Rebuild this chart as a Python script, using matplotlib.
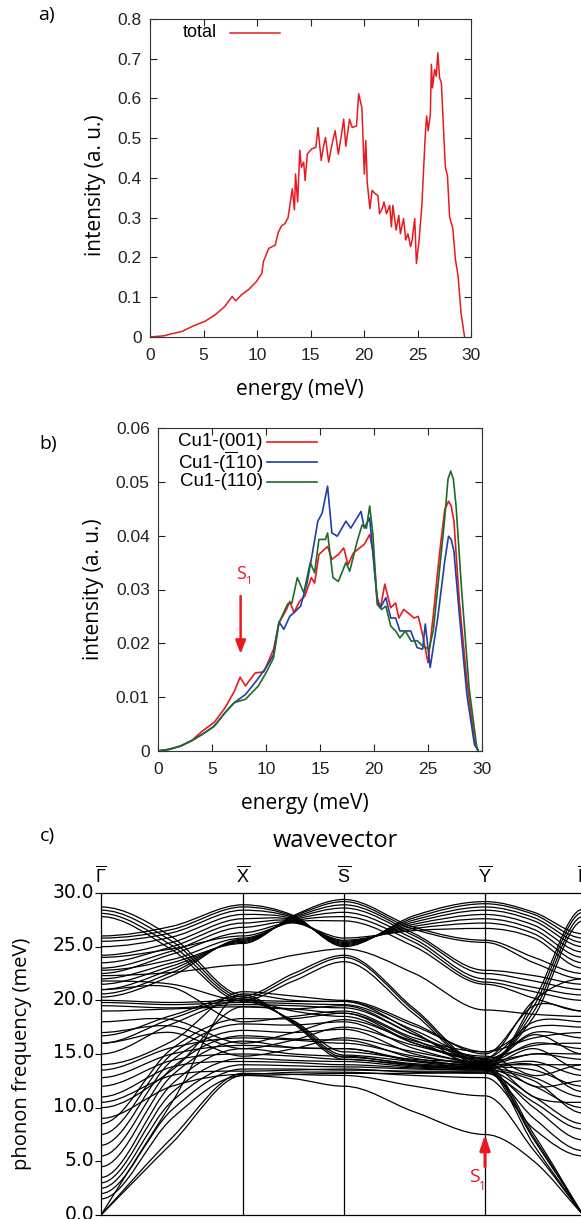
import numpy as np
import matplotlib
matplotlib.use('Agg')
import matplotlib.pyplot as plt
from matplotlib.path import Path
from matplotlib.patches import PathPatch
import matplotlib.ticker as ticker
import matplotlib.transforms as mtransforms

plt.rcParams['mathtext.fontset'] = 'custom'
plt.rcParams['mathtext.rm'] = 'Liberation Sans'
plt.rcParams['axes.linewidth'] = 0.8

W, H = 581, 1219
RED = '#e8191f'
BLUE = '#1f40a8'
GREEN = '#1e6b26'
LABFONT = 'Open Sans'
TICKFONT = 'Liberation Sans'

# ---------------- panel a: total DOS ----------------
e_tot = [0, 1.3, 2.0, 3.0, 4.05, 5.1, 6.1, 7.0, 7.68, 8.0, 8.55, 9.24, 9.93, 10.45, 10.6,
         11.1, 11.7, 12.0, 12.3, 12.6, 12.9, 13.3, 13.5, 13.6, 13.8, 14.0, 14.15, 14.36,
         14.5, 14.7, 15.1, 15.5, 15.7, 16.0, 16.2, 16.4, 16.7, 16.95, 17.3, 17.6, 17.9,
         18.1, 18.3, 18.65, 18.9, 19.3, 19.5, 19.8, 20.03, 20.17, 20.3, 20.55, 20.76, 21.07,
         21.3, 21.45, 21.7, 21.87, 22.1, 22.4, 22.56, 22.7, 23.0, 23.25, 23.4, 23.7, 23.9,
         24.1, 24.36, 24.5, 24.74, 24.9, 25.15, 25.4, 25.7, 25.85, 26.0, 26.2, 26.3, 26.4,
         26.6, 26.75, 26.9, 27.06, 27.23, 27.6, 27.8, 28.0, 28.3, 28.55, 28.8, 29.07, 29.4]
i_tot = [0, 0.003, 0.008, 0.014, 0.028, 0.039, 0.056, 0.077, 0.102, 0.091, 0.106, 0.12,
         0.139, 0.16, 0.19, 0.223, 0.231, 0.264, 0.28, 0.285, 0.30, 0.373, 0.32, 0.41, 0.34,
         0.47, 0.427, 0.44, 0.394, 0.46, 0.473, 0.477, 0.527, 0.444, 0.477, 0.502, 0.44,
         0.477, 0.519, 0.46, 0.51, 0.548, 0.48, 0.548, 0.527, 0.531, 0.612, 0.577, 0.41,
         0.494, 0.39, 0.323, 0.369, 0.36, 0.356, 0.31, 0.323, 0.34, 0.31, 0.331, 0.277,
         0.331, 0.269, 0.306, 0.26, 0.298, 0.244, 0.26, 0.227, 0.244, 0.298, 0.185, 0.244,
         0.327, 0.494, 0.556, 0.519, 0.56, 0.686, 0.627, 0.673, 0.656, 0.715, 0.652, 0.64,
         0.427, 0.406, 0.302, 0.273, 0.194, 0.152, 0.06, 0.0]

# ---------------- panel b: projected DOS ----------------
e_001 = [0, 1.0, 2.07, 3.1, 4.1, 5.2, 6.2, 7.07, 7.6, 8.1, 9.0, 9.8, 10.7, 11.2, 11.9,
         12.2, 12.6, 13.1, 13.6, 14.2, 14.5, 14.9, 15.7, 16.1, 16.7, 17.2, 17.6, 18.1, 19.1,
         19.6, 19.9, 20.3, 20.6, 21.0, 21.55, 22.0, 22.3, 22.75, 23.3, 23.7, 24.1, 24.5,
         25.0, 25.5, 25.85, 26.2, 26.55, 26.9, 27.15, 27.4, 27.9, 28.6, 29.3, 29.65]
i_001 = [0, 0.0003, 0.0009, 0.0019, 0.0037, 0.0053, 0.008, 0.0111, 0.0137, 0.0121, 0.0145,
         0.0147, 0.0189, 0.0238, 0.0263, 0.0278, 0.0257, 0.0278, 0.0288, 0.0322, 0.0312,
         0.0365, 0.038, 0.0356, 0.0365, 0.0377, 0.0346, 0.0368, 0.0384, 0.0402, 0.0371,
         0.0285, 0.0266, 0.031, 0.0266, 0.0275, 0.0247, 0.0263, 0.0254, 0.0247, 0.025,
         0.0216, 0.0164, 0.0254, 0.0325, 0.039, 0.0448, 0.0464, 0.0455, 0.0427, 0.0278,
         0.013, 0.0019, 0.0]

e_m110 = [0, 1.0, 2.07, 3.1, 4.1, 5.2, 6.2, 7.07, 8.1, 9.1, 10.0, 10.7, 11.2, 11.65, 12.2,
          12.75, 13.2, 13.8, 14.3, 14.8, 15.2, 15.7, 16.1, 16.6, 17.4, 17.85, 18.8, 19.1,
          19.6, 20.3, 20.6, 21.1, 21.55, 22.0, 22.4, 22.9, 23.4, 24.0, 24.5, 24.75, 25.2,
          25.9, 26.55, 26.9, 27.15, 27.4, 27.9, 28.6, 29.3, 29.65]
i_m110 = [0, 0.0003, 0.0009, 0.0019, 0.0031, 0.0046, 0.0071, 0.009, 0.0105, 0.013, 0.0155,
          0.0179, 0.024, 0.0226, 0.025, 0.026, 0.0269, 0.0312, 0.0368, 0.0427, 0.0442,
          0.0492, 0.0405, 0.0399, 0.0427, 0.0414, 0.0445, 0.0414, 0.0433, 0.0278, 0.0266,
          0.0285, 0.0247, 0.0247, 0.0223, 0.0223, 0.0223, 0.0192, 0.0189, 0.0236, 0.0155,
          0.0247, 0.0353, 0.0399, 0.0393, 0.0371, 0.0254, 0.0105, 0.0012, 0.0]

e_110 = [0, 1.0, 2.07, 3.1, 4.1, 5.2, 6.2, 7.07, 8.1, 9.3, 10.0, 10.7, 11.2, 12.0, 12.4,
         12.9, 13.5, 14.1, 14.5, 14.9, 15.5, 15.7, 16.2, 16.7, 17.4, 17.75, 18.45, 18.9,
         19.3, 19.6, 19.9, 20.3, 20.7, 21.1, 21.55, 22.0, 22.4, 22.9, 23.45, 24.0, 24.5,
         25.1, 25.5, 25.9, 26.55, 26.85, 27.1, 27.35, 27.6, 28.1, 28.8, 29.5, 29.65]
i_110 = [0, 0.0003, 0.0009, 0.0019, 0.0031, 0.0046, 0.0071, 0.009, 0.0096, 0.0121, 0.0145,
         0.0173, 0.0238, 0.0273, 0.0275, 0.0322, 0.0294, 0.035, 0.0331, 0.0393, 0.0393,
         0.0405, 0.0322, 0.0315, 0.035, 0.0334, 0.039, 0.042, 0.0414, 0.0455, 0.0402,
         0.0272, 0.0263, 0.0269, 0.0232, 0.0223, 0.021, 0.0223, 0.0204, 0.0205, 0.0195,
         0.0189, 0.0225, 0.0303, 0.0433, 0.0505, 0.052, 0.0505, 0.0455, 0.0303, 0.0118,
         0.0009, 0.0]

# ---------------- panel c: phonon bands ----------------
# high-symmetry path and values at G, mid, X, mid, S, mid, Y, mid, G
k_path = [0, 71, 142, 192.5, 243, 313.5, 384, 433, 482]
k_labels = [r'$\overline{\Gamma}$', r'$\overline{\mathrm{X}}$', r'$\overline{\mathrm{S}}$',
            r'$\overline{\mathrm{Y}}$', r'$\overline{\Gamma}$']
bands = [
    [26.0, 26.9, 28.9, 27.9, 25.0, 27.9, 29.2, 28.2, 26.2],
    [25.8, 26.6, 28.7, 27.8, 25.1, 27.7, 29.0, 28.0, 25.8],
    [25.5, 26.3, 28.4, 27.7, 25.2, 27.5, 28.7, 27.7, 25.4],
    [25.0, 25.9, 28.0, 27.6, 25.3, 27.3, 28.4, 27.4, 25.0],
    [24.2, 25.4, 27.6, 27.5, 25.4, 27.1, 28.0, 27.0, 24.5],
    [23.5, 25.0, 27.2, 27.4, 25.5, 26.9, 27.6, 26.6, 24.0],
    [23.0, 24.6, 26.8, 27.3, 25.6, 26.7, 27.2, 26.2, 23.5],
    [22.5, 24.3, 26.3, 27.2, 25.8, 26.5, 26.7, 25.8, 23.0],
    [22.0, 23.5, 25.3, 27.9, 29.4, 26.8, 25.6, 24.0, 22.5],
    [21.5, 23.2, 25.4, 27.8, 29.2, 26.6, 25.4, 23.5, 22.0],
    [21.0, 22.9, 25.5, 27.7, 28.9, 26.2, 22.8, 22.3, 21.5],
    [20.6, 22.6, 25.6, 27.6, 28.6, 26.0, 22.5, 21.8, 21.0],
    [20.3, 22.3, 25.7, 27.5, 28.2, 25.7, 22.0, 21.2, 20.5],
    [22.8, 23.8, 25.8, 27.4, 27.8, 25.4, 21.7, 20.8, 20.0],
    [24.0, 24.8, 26.0, 27.3, 27.4, 25.0, 21.5, 20.2, 19.0],
    [22.3, 22.6, 23.3, 24.2, 24.8, 22.5, 19.1, 18.7, 18.5],
    [28.7, 25.9, 20.5, 17.8, 14.5, 13.9, 13.6, 20.0, 28.5],
    [28.4, 25.5, 20.3, 17.9, 14.7, 14.1, 13.8, 19.5, 28.2],
    [28.1, 25.1, 20.1, 18.0, 14.9, 14.3, 14.0, 19.0, 27.8],
    [27.8, 24.7, 19.9, 18.1, 15.2, 14.5, 14.3, 18.5, 27.4],
    [16.7, 18.6, 20.4, 22.5, 24.2, 19.2, 14.0, 7.5, 0.0],
    [16.0, 18.3, 20.2, 22.2, 24.0, 19.0, 13.8, 7.2, 0.0],
    [15.0, 17.8, 20.0, 21.8, 23.6, 18.7, 13.7, 7.0, 0.0],
    [20.0, 19.8, 20.0, 19.9, 19.9, 17.6, 15.2, 16.5, 17.0],
    [19.8, 19.6, 19.8, 19.7, 19.6, 17.2, 14.6, 15.8, 16.0],
    [19.5, 19.3, 19.6, 19.5, 19.3, 16.8, 14.3, 15.0, 15.0],
    [19.0, 19.2, 19.4, 19.2, 18.8, 16.3, 14.0, 14.0, 14.0],
    [0.0, 6.7, 13.0, 12.7, 12.0, 9.6, 7.5, 5.0, 0.0],
    [0.0, 7.2, 13.2, 13.1, 13.0, 12.0, 11.1, 6.0, 0.0],
    [0.0, 10.5, 20.6, 20.0, 19.9, 17.0, 13.6, 6.5, 0.0],
    [1.5, 9.0, 13.0, 13.1, 13.2, 13.2, 13.3, 9.0, 6.0],
    [2.0, 9.8, 13.6, 13.6, 13.5, 13.4, 13.4, 10.0, 7.0],
    [2.5, 10.6, 14.0, 13.9, 13.8, 13.6, 13.5, 11.0, 8.5],
    [3.0, 11.4, 14.6, 14.4, 14.3, 13.8, 13.6, 12.0, 10.0],
    [3.5, 12.2, 15.5, 15.0, 14.8, 14.0, 13.7, 12.8, 11.0],
    [4.5, 13.0, 16.2, 15.6, 15.5, 14.3, 13.8, 13.5, 12.0],
    [5.5, 13.7, 16.7, 16.4, 16.3, 14.6, 13.9, 14.3, 13.0],
    [6.5, 14.4, 17.2, 17.0, 17.3, 15.0, 14.0, 15.0, 14.5],
    [7.5, 15.0, 17.8, 17.7, 18.0, 15.5, 14.2, 16.0, 15.5],
    [8.5, 15.5, 18.3, 18.3, 18.8, 16.0, 14.4, 17.0, 16.5],
    [9.0, 12.0, 13.1, 13.3, 13.3, 13.0, 12.8, 8.0, 5.5],
    [10.0, 13.5, 19.4, 19.2, 19.5, 16.8, 14.6, 18.0, 18.0],
    [10.5, 13.0, 13.4, 13.5, 13.6, 13.3, 13.2, 10.5, 8.0],
    [11.0, 13.8, 14.3, 14.2, 14.0, 13.7, 13.5, 12.5, 9.5],
    [12.0, 14.4, 15.0, 14.8, 14.5, 14.0, 13.7, 14.0, 11.5],
    [12.8, 15.0, 15.8, 15.6, 15.5, 14.4, 13.9, 15.5, 13.5],
    [13.5, 15.6, 16.5, 16.3, 16.0, 14.8, 14.1, 16.8, 15.0],
    [14.0, 16.2, 20.8, 20.4, 20.0, 17.8, 15.0, 19.5, 19.0],
    [16.0, 17.0, 14.8, 15.5, 16.5, 15.2, 14.2, 11.0, 10.5],
    [17.0, 17.6, 15.5, 16.3, 17.5, 15.8, 14.5, 12.0, 12.5],
    [18.0, 18.2, 16.0, 17.0, 18.2, 16.2, 14.8, 13.0, 14.0],
    [21.0, 21.2, 18.0, 18.5, 19.0, 16.5, 15.2, 17.5, 17.5],
    [21.8, 21.5, 20.0, 19.0, 18.5, 16.0, 14.6, 20.0, 22.0],
]


def fx(px):
    return px / W


def fy(py):
    return 1 - py / H


def draw_band(ax, k, e, **kw):
    """smooth curve through band values, flat at zone points"""
    n = len(k)
    t = np.zeros(n)
    for i in range(1, n - 1, 2):
        t[i] = (e[i + 1] - e[i - 1]) / (k[i + 1] - k[i - 1])
    if e[0] == 0:
        t[0] = (e[1] - e[0]) / (k[1] - k[0])
    if e[-1] == 0:
        t[-1] = (e[-1] - e[-2]) / (k[-1] - k[-2])
    verts = [(k[0], e[0])]
    codes = [Path.MOVETO]
    for i in range(n - 1):
        h = k[i + 1] - k[i]
        verts += [(k[i] + h / 3, e[i] + t[i] * h / 3),
                  (k[i + 1] - h / 3, e[i + 1] - t[i + 1] * h / 3),
                  (k[i + 1], e[i + 1])]
        codes += [Path.CURVE4] * 3
    ax.add_patch(PathPatch(Path(verts, codes), fill=False, **kw))


def style_dos(ax, fmt):
    ax.tick_params(direction='in', top=True, right=True, length=5, width=0.8,
                   labelsize=12.5, colors='#222222')
    ax.tick_params(axis='x', pad=8)
    ax.tick_params(axis='y', pad=6)
    ax.yaxis.set_major_formatter(ticker.FuncFormatter(lambda v, p: '0' if v == 0 else fmt % v))
    for lab in ax.get_xticklabels() + ax.get_yticklabels():
        lab.set_family(TICKFONT)
    for s in ax.spines.values():
        s.set_color('#333333')


fig = plt.figure(figsize=(W / 100, H / 100), dpi=100)

# panel a
axa = fig.add_axes([fx(150), fy(337), fx(321), 318 / H])
axa.plot(e_tot, i_tot, color=RED, lw=1.1)
axa.set_xlim(0, 30)
axa.set_ylim(0, 0.8)
axa.set_xticks(np.arange(0, 31, 5))
axa.set_yticks(np.arange(0, 0.81, 0.1))
style_dos(axa, '%.1f')
axa.text(0.209, 0.956, 'total', transform=axa.transAxes, ha='right', va='center',
         fontsize=13, family=TICKFONT)
axa.plot([0.25, 0.405], [0.956, 0.956], transform=axa.transAxes, color=RED, lw=1.1)
fig.text(fx(38), fy(15), 'a)', fontsize=14, family=LABFONT, va='center', ha='left')
fig.text(fx(300), fy(389), 'energy (meV)', fontsize=15, family=LABFONT, ha='center', va='center')
fig.text(fx(95), fy(185), 'intensity (a. u.)', fontsize=15, family=LABFONT, ha='center',
         va='center', rotation=90)

# panel b
axb = fig.add_axes([fx(158), fy(751), fx(324), 323 / H])
axb.plot(e_001, i_001, color=RED, lw=1.2)
axb.plot(e_m110, i_m110, color=BLUE, lw=1.2)
axb.plot(e_110, i_110, color=GREEN, lw=1.2)
axb.set_xlim(0, 30)
axb.set_ylim(0, 0.06)
axb.set_xticks(np.arange(0, 31, 5))
axb.set_yticks(np.arange(0, 0.061, 0.01))
style_dos(axb, '%.2f')
leg_names = ['Cu1-(001)', r'Cu1-($\overline{\mathrm{1}}$10)', 'Cu1-(110)']
for name, col, yy in zip(leg_names, [RED, BLUE, GREEN], [0.957, 0.895, 0.833]):
    axb.text(0.324, yy, name, transform=axb.transAxes, ha='right', va='center',
             fontsize=13.5, family=TICKFONT)
    axb.plot([0.336, 0.491], [yy, yy], transform=axb.transAxes, color=col, lw=1.2)
axb.annotate('', xy=(7.65, 0.0180), xytext=(7.65, 0.0288),
             arrowprops=dict(arrowstyle='-|>,head_width=0.3,head_length=0.8', lw=1.8,
                             color=RED, shrinkA=0, shrinkB=0))
fig.text(fx(241), fy(574), 'S', color=RED, fontsize=13, family=LABFONT, ha='center', va='center')
fig.text(fx(248.5), fy(582), '1', color=RED, fontsize=8, family=LABFONT, ha='center', va='center')
fig.text(fx(39), fy(444), 'b)', fontsize=14, family=LABFONT, va='center', ha='left')
fig.text(fx(305), fy(804), 'energy (meV)', fontsize=15, family=LABFONT, ha='center', va='center')
fig.text(fx(93), fy(589), 'intensity (a. u.)', fontsize=15, family=LABFONT, ha='center',
         va='center', rotation=90)

# panel c
axc = fig.add_axes([fx(101), fy(1215), fx(482), 322 / H])
for b in bands:
    draw_band(axc, k_path, b, color='black', lw=0.9)
axc.set_xlim(0, k_path[-1])
axc.set_ylim(0, 30)
for kk in k_path[2:-1:2]:
    axc.axvline(kk, color='black', lw=0.9)
axc.set_xticks([])
axc.set_yticks(np.arange(0, 31, 5))
axc.yaxis.set_major_formatter(ticker.FormatStrFormatter('%.1f'))
axc.tick_params(axis='y', direction='out', length=4, width=0.8, pad=1, labelsize=13.5)
lift = mtransforms.ScaledTranslation(0, 3 / 100, fig.dpi_scale_trans)
for lab in axc.get_yticklabels():
    lab.set_transform(lab.get_transform() + lift)
for s in axc.spines.values():
    s.set_color('black')
    s.set_linewidth(0.9)
for kk, lab in zip(k_path[::2], k_labels):
    axc.text(kk, 30.6, lab, ha='center', va='bottom', fontsize=13)
axc.annotate('', xy=(384, 7.5), xytext=(384, 4.5),
             arrowprops=dict(arrowstyle='-|>,head_width=0.3,head_length=0.9', lw=2.2,
                             color=RED, shrinkA=0, shrinkB=0))
fig.text(fx(474), fy(1177), 'S', color=RED, fontsize=14, family=LABFONT, ha='center', va='center')
fig.text(fx(482), fy(1186), '1', color=RED, fontsize=8.5, family=LABFONT, ha='center', va='center')
fig.text(fx(40), fy(836), 'c)', fontsize=14, family=LABFONT, va='center', ha='left')
fig.text(fx(335), fy(841), 'wavevector', fontsize=17, family=LABFONT, ha='center', va='center')
fig.text(fx(22), fy(1054), 'phonon frequency (meV)', fontsize=14.5, family=LABFONT,
         ha='center', va='center', rotation=90)

fig.savefig('out.png', dpi=100)
plt.close(fig)
